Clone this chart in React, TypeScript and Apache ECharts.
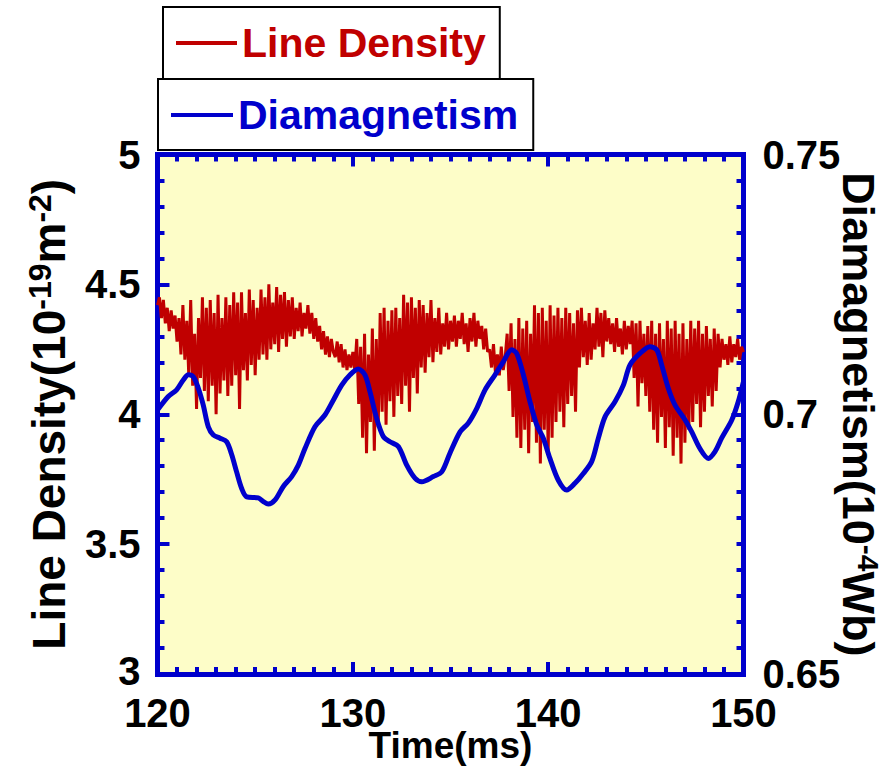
import React, { useEffect, useRef } from "react";
import * as echarts from "echarts";

const FONT = "'Liberation Sans', Arial, Helvetica, sans-serif";
const RED = "#c00000";
const BLUE = "#0000cc";
const PLOT_BG = "#fdfdc8";
const W = 895;
const H = 770;

const seriesNames = ["Line Density", "Diamagnetism"];
const timeRange = [120, 150];
const densityRange = [3, 5];
const diaRange = [0.65, 0.75];

// Line density samples: one every 0.1 ms starting at 120 ms (10^19 m^-2)
const densityStart = 120;
const densityStep = 0.1;
const densityValues = [
  // 120.0
  4.42, 4.45, 4.37, 4.44, 4.35,
  // 120.5
  4.41, 4.32, 4.40, 4.33, 4.38,
  // 121.0
  4.28, 4.37, 4.23, 4.42, 4.21,
  // 121.5
  4.36, 4.15, 4.44, 4.11, 4.31, 4.02, 4.37, 4.14,
  // 122.3
  4.45, 4.09, 4.41, 4.05, 4.44, 4.11, 4.39, 4.00, 4.46, 4.08, 4.37, 4.13, 4.45, 4.07, 4.42,
  // 123.8
  4.11, 4.47, 4.15, 4.43, 4.02, 4.47, 4.17, 4.39, 4.13, 4.48, 4.19, 4.44, 4.15, 4.41, 4.21,
  // 125.3
  4.48, 4.23, 4.45, 4.21, 4.50, 4.25, 4.43, 4.27, 4.49, 4.24, 4.46, 4.29, 4.47, 4.26, 4.44, 4.30,
  // 126.9
  4.45, 4.29, 4.41, 4.32, 4.43, 4.30, 4.39,
  // 127.6
  4.33, 4.42, 4.31, 4.39, 4.29, 4.37, 4.28, 4.34,
  // 128.4
  4.25, 4.32, 4.23, 4.30, 4.22, 4.29, 4.24, 4.22, 4.28,
  // 129.3
  4.20, 4.27, 4.18, 4.25, 4.17, 4.23, 4.18, 4.24, 4.17,
  // 130.2
  4.29, 4.04, 4.26, 3.91, 4.31, 3.85, 4.23, 3.97, 4.33, 3.86, 4.29,
  // 131.3
  3.95, 4.39, 4.01, 4.41, 3.96, 4.36, 4.05, 4.40, 3.99, 4.41, 4.07, 4.37,
  // 132.5
  4.04, 4.46, 4.11, 4.43, 4.01, 4.45, 4.14, 4.41, 4.08, 4.44,
  // 133.5
  4.18, 4.42, 4.16, 4.39, 4.22, 4.44, 4.20, 4.37, 4.24, 4.41, 4.23, 4.35, 4.26, 4.39, 4.25, 4.36,
  // 135.1
  4.28, 4.38, 4.26, 4.36, 4.29, 4.39, 4.27, 4.35, 4.24, 4.37, 4.28, 4.39, 4.26, 4.36, 4.29, 4.34, 4.25, 4.33, 4.24,
  // 137.0
  4.25, 4.18, 4.27, 4.16, 4.23, 4.15, 4.26, 4.17, 4.22,
  // 137.9
  4.31, 4.09, 4.35, 3.99, 4.29, 3.91, 4.37, 3.87, 4.33, 3.94, 4.36, 3.85, 4.31, 3.97,
  // 139.3
  4.42, 3.89, 4.39, 3.81, 4.41, 3.94, 4.36, 3.85, 4.42, 3.91, 4.38,
  // 140.4
  3.97, 4.41, 4.01, 4.37, 3.95, 4.41, 4.04, 4.39, 4.07, 4.35, 4.01, 4.40,
  // 141.6
  4.18, 4.41, 4.22, 4.36, 4.19, 4.39, 4.21, 4.35, 4.25,
  // 142.5
  4.41, 4.26, 4.39, 4.22, 4.40, 4.28, 4.37, 4.27,
  // 143.3
  4.35, 4.24, 4.37, 4.26, 4.33, 4.23, 4.36, 4.25, 4.34, 4.27, 4.36,
  // 144.4
  4.14, 4.35, 4.03, 4.36, 4.12, 4.31, 4.07, 4.34, 4.01,
  // 145.3
  4.36, 3.94, 4.31, 3.89, 4.35, 3.99, 4.29, 3.87, 4.36, 3.95,
  // 146.3
  4.33, 3.84, 4.36, 3.91, 4.31, 3.81, 4.35, 3.89, 4.29, 3.94, 4.36,
  // 147.4
  3.97, 4.33, 4.04, 4.36, 3.95, 4.31, 4.01, 4.34, 4.07, 4.29, 4.03, 4.33, 4.09,
  // 148.7
  4.31, 4.18, 4.29, 4.21, 4.27, 4.19, 4.30, 4.20, 4.27, 4.22, 4.29, 4.21, 4.26, 4.24,
];

// Diamagnetism (10^-4 Wb)
const diaTimes = [
  120.0, 120.55, 120.98, 121.32, 121.58, 121.83, 122.09, 122.34, 122.6, 122.86,
  123.2, 123.54, 123.8, 124.05, 124.31, 124.57, 125.16, 125.42, 125.67, 126.02,
  126.44, 126.87, 127.21, 127.55, 128.06, 128.58, 129.0, 129.43, 129.86, 130.28,
  130.62, 130.88, 131.22, 131.56, 131.9, 132.33, 132.76, 133.18, 133.53, 134.12,
  134.55, 134.97, 135.49, 135.91, 136.34, 136.77, 137.28, 137.7, 138.13, 138.39,
  138.73, 139.07, 139.42, 139.75, 140.09, 140.52, 140.95, 141.37, 141.8, 142.23,
  142.57, 142.91, 143.42, 143.85, 144.19, 144.7, 145.21, 145.56, 145.81, 146.15,
  146.49, 147.01, 147.35, 147.77, 148.2, 148.54, 148.88, 149.4, 149.73, 150.0,
];
const diaValues = [
  0.7008, 0.7034, 0.7047, 0.7066, 0.7076, 0.7072, 0.705, 0.7018, 0.6976, 0.696,
  0.6954, 0.6947, 0.6922, 0.6889, 0.6857, 0.6841, 0.6839, 0.6832, 0.6827, 0.6835,
  0.6861, 0.688, 0.6902, 0.6934, 0.6976, 0.6999, 0.7027, 0.7056, 0.7076, 0.7087,
  0.7076, 0.7043, 0.6992, 0.6957, 0.6947, 0.6938, 0.6902, 0.6877, 0.687, 0.688,
  0.6889, 0.6925, 0.6966, 0.6983, 0.7011, 0.7047, 0.7076, 0.7101, 0.7124, 0.7117,
  0.7076, 0.7024, 0.6979, 0.6954, 0.6915, 0.6873, 0.6854, 0.6867, 0.6886, 0.6909,
  0.6954, 0.6995, 0.7024, 0.7056, 0.7095, 0.7117, 0.713, 0.7124, 0.7095, 0.705,
  0.7018, 0.6989, 0.6966, 0.6934, 0.6915, 0.6928, 0.6954, 0.6989, 0.7024, 0.7063,
];

const labelFont = {
  color: "#000",
  fontSize: 40,
  fontWeight: "bold" as const,
  fontFamily: FONT,
};
const tickLabelStyle = { ...labelFont, lineHeight: 34 };

const axisLineStyle = { color: BLUE, width: 5, cap: "square" as const };
const tickStyle = { color: BLUE, width: 4 };

export default function App() {
  const ref = useRef<HTMLDivElement>(null);

  useEffect(() => {
    if (!ref.current) return;
    document.body.style.margin = "0";
    document.body.style.overflow = "hidden";
    document.documentElement.style.overflow = "hidden";

    const chart = echarts.init(ref.current, null, { renderer: "svg", width: W, height: H });

    const densityData = densityValues.map((v, i) => [densityStart + i * densityStep, v]);
    const diaData = diaTimes.map((t, i) => [t, diaValues[i]]);

    const richTitle = (size: number, sup: number) => ({
      a: { fontSize: size, fontWeight: "bold", fontFamily: FONT, color: "#000", lineHeight: 50 },
      s: { fontSize: sup, fontWeight: "bold", fontFamily: FONT, color: "#000", verticalAlign: "top", lineHeight: 32 },
    });

    const legendBase = {
      orient: "horizontal",
      icon: "rect",
      itemHeight: 4,
      selectedMode: false,
      backgroundColor: "#ffffff",
      borderColor: "#000000",
      borderWidth: 2,
      textStyle: { fontSize: 41, fontWeight: "bold", fontFamily: FONT, lineHeight: 44 },
    };

    chart.setOption({
      animation: false,
      backgroundColor: "#ffffff",
      grid: {
        show: true,
        left: 157.5,
        right: W - 743.5,
        top: 154.5,
        bottom: H - 674,
        backgroundColor: PLOT_BG,
        borderWidth: 0,
        containLabel: false,
        outerBoundsMode: "none",
      },
      legend: [
        {
          ...legendBase,
          left: 163,
          top: 7,
          itemWidth: 61,
          padding: [14, 14, 14, 13],
          data: [{ name: seriesNames[0], textStyle: { color: RED } }],
        },
        {
          ...legendBase,
          left: 158,
          top: 79,
          itemWidth: 62,
          padding: [14, 15, 13, 13],
          data: [{ name: seriesNames[1], textStyle: { color: BLUE } }],
        },
      ],
      xAxis: [
        {
          type: "value",
          position: "bottom",
          min: timeRange[0],
          max: timeRange[1],
          interval: 10,
          axisLine: { show: true, lineStyle: axisLineStyle },
          axisTick: { show: true, inside: true, length: 12, lineStyle: tickStyle },
          minorTick: { show: true, splitNumber: 10, length: 7, lineStyle: tickStyle },
          axisLabel: { ...tickLabelStyle, margin: 22 },
          splitLine: { show: false },
          minorSplitLine: { show: false },
          name: "Time(ms)",
          nameLocation: "middle",
          nameGap: 53,
          nameMoveOverlap: false,
          nameTextStyle: { color: "#000", fontSize: 37, fontWeight: "bold", fontFamily: FONT, lineHeight: 36 },
        },
        {
          type: "value",
          position: "top",
          min: timeRange[0],
          max: timeRange[1],
          interval: 10,
          axisLine: { show: true, lineStyle: axisLineStyle },
          axisTick: { show: true, inside: true, length: 12, lineStyle: tickStyle },
          minorTick: { show: true, splitNumber: 10, length: 7, lineStyle: tickStyle },
          axisLabel: { show: false },
          splitLine: { show: false },
        },
      ],
      yAxis: [
        {
          type: "value",
          position: "left",
          min: densityRange[0],
          max: densityRange[1],
          interval: 0.5,
          axisLine: { show: true, lineStyle: axisLineStyle },
          axisTick: { show: true, inside: true, length: 12, lineStyle: tickStyle },
          minorTick: { show: true, splitNumber: 5, length: 7, lineStyle: tickStyle },
          axisLabel: {
            ...tickLabelStyle,
            margin: 17,
            formatter: (v: number) => (v === densityRange[0] ? `{low|${v}}` : `${v}`),
            rich: { low: { ...labelFont, lineHeight: 34, padding: [0, 0, 6, 0] } },
          },
          splitLine: { show: false },
          name: "{a|Line Density(10}{s|-19}{a|m}{s|-2}{a|)}",
          nameLocation: "middle",
          nameRotate: 90,
          nameGap: 84,
          nameMoveOverlap: false,
          nameTextStyle: { rich: richTitle(46, 32) },
        },
        {
          type: "value",
          position: "right",
          min: diaRange[0],
          max: diaRange[1],
          interval: 0.05,
          axisLine: { show: true, lineStyle: axisLineStyle },
          axisTick: { show: true, inside: true, length: 12, lineStyle: tickStyle },
          minorTick: { show: true, splitNumber: 10, length: 7, lineStyle: tickStyle },
          axisLabel: { ...tickLabelStyle, margin: 19 },
          splitLine: { show: false },
          name: "{a|Diamagnetism(10}{s|-4}{a|Wb)}",
          nameLocation: "middle",
          nameRotate: -90,
          nameGap: 90,
          nameMoveOverlap: false,
          nameTextStyle: { rich: richTitle(45, 30) },
        },
      ],
      series: [
        {
          name: seriesNames[0],
          type: "line",
          xAxisIndex: 0,
          yAxisIndex: 0,
          data: densityData,
          showSymbol: false,
          symbol: "none",
          color: RED,
          lineStyle: { color: RED, width: 3 },
          z: 2,
        },
        {
          name: seriesNames[1],
          type: "line",
          xAxisIndex: 0,
          yAxisIndex: 1,
          data: diaData,
          showSymbol: false,
          symbol: "none",
          smooth: 0.3,
          color: BLUE,
          lineStyle: { color: BLUE, width: 5 },
          z: 3,
        },
      ],
    });

    return () => chart.dispose();
  }, []);

  return (
    <div
      ref={ref}
      style={{ position: "absolute", left: 0, top: 0, width: W, height: H }}
    />
  );
}
